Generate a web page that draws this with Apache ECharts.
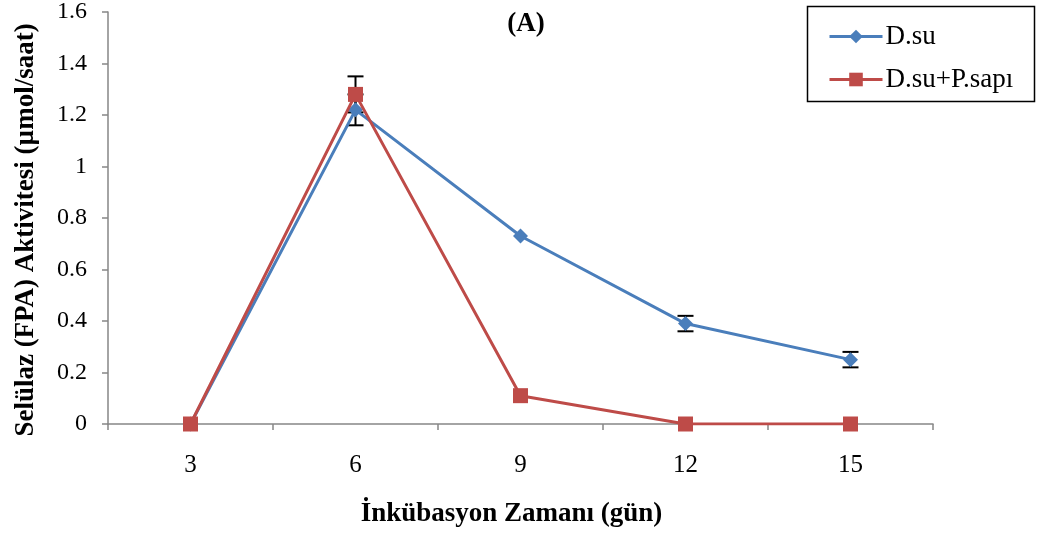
<!DOCTYPE html>
<html><head><meta charset="utf-8">
<script src="https://cdn.jsdelivr.net/npm/echarts@6/dist/echarts.min.js"></script>
<style>html,body{margin:0;padding:0;background:#fff}#c{width:1040px;height:535px}</style>
</head><body><div id="c"></div>
<script>
const categories = ['3', '6', '9', '12', '15'];
const dsu = [0, 1.22, 0.73, 0.39, 0.25];
const dsuErr = [0, 0.06, 0, 0.03, 0.03];
const dsuP = [0, 1.28, 0.11, 0, 0];
const dsuPErr = [0, 0.07, 0, 0, 0];
const seriesNames = ['D.su', 'D.su+P.sapı'];
const titleText = '(A)';
const xName = 'İnkübasyon Zamanı (gün)';
const yName = 'Selülaz (FPA) Aktivitesi (µmol/saat)';

const FONT = '"Liberation Serif", "Times New Roman", serif';
const chart = echarts.init(document.getElementById('c'));

function errSeries(vals, errs, z) {
  return {
    type: 'custom', z: z, silent: true,
    data: vals.map((v, i) => [i, v - errs[i], v + errs[i]]).filter((d, i) => errs[i] > 0),
    renderItem: function (params, api) {
      const x = api.value(0);
      const lo = api.coord([x, api.value(1)]);
      const hi = api.coord([x, api.value(2)]);
      const w = 8;
      const st = { stroke: '#000', lineWidth: 2 };
      return { type: 'group', children: [
        { type: 'line', shape: { x1: lo[0], y1: lo[1], x2: hi[0], y2: hi[1] }, style: st },
        { type: 'line', shape: { x1: lo[0] - w, y1: lo[1], x2: lo[0] + w, y2: lo[1] }, style: st },
        { type: 'line', shape: { x1: hi[0] - w, y1: hi[1], x2: hi[0] + w, y2: hi[1] }, style: st }
      ]};
    }
  };
}

chart.setOption({
  backgroundColor: '#fff',
  animation: false,
  title: { text: titleText, left: 521, top: 6, textAlign: 'center',
    textStyle: { fontFamily: FONT, fontSize: 27, fontWeight: 'bold', color: '#000' } },
  graphic: [{ type: 'rect', left: 805, top: 4, z: 10, silent: true,
    shape: { width: 227, height: 95 },
    style: { fill: 'none', stroke: '#000', lineWidth: 1.5 } }],
  legend: {
    orient: 'vertical', left: 805, top: 4,
    padding: [19, 10, 8, 23], itemGap: 16,
    itemWidth: 53, itemHeight: 17,
    lineStyle: { width: 3 },
    textStyle: { fontFamily: FONT, fontSize: 27, color: '#000', padding: [0, 0, 0, -2] },
    data: seriesNames
  },
  grid: { left: 108, right: 107, top: 12, bottom: 111, containLabel: false },
  xAxis: {
    type: 'category', data: categories, boundaryGap: true,
    name: xName, nameLocation: 'middle', nameGap: 77,
    nameTextStyle: { fontFamily: FONT, fontSize: 27, fontWeight: 'bold', color: '#000', padding: [0, 18, 0, 0] },
    axisLine: { lineStyle: { color: '#868686', width: 1.5 } },
    axisTick: { show: true, length: 6, lineStyle: { color: '#868686', width: 1.5 } },
    axisLabel: { fontFamily: FONT, fontSize: 25, color: '#000', margin: 29 },
    splitLine: { show: false }
  },
  yAxis: {
    type: 'value', min: 0, max: 1.6, interval: 0.2,
    name: yName, nameLocation: 'middle', nameGap: 68, nameRotate: 90,
    nameTextStyle: { fontFamily: FONT, fontSize: 27, fontWeight: 'bold', color: '#000', padding: [0, 24, 0, 0] },
    axisLine: { show: true, lineStyle: { color: '#868686', width: 1.5 } },
    axisTick: { show: true, length: 6, lineStyle: { color: '#868686', width: 1.5 } },
    axisLabel: { fontFamily: FONT, fontSize: 24, color: '#000', margin: 21,
      formatter: v => String(Math.round(v * 10) / 10) },
    splitLine: { show: false }
  },
  series: [
    { name: seriesNames[0], type: 'line', data: dsu, z: 3,
      symbol: 'diamond', symbolSize: 15,
      lineStyle: { color: '#4a7ebb', width: 3 },
      itemStyle: { color: '#4a7ebb' } },
    errSeries(dsu, dsuErr, 2),
    errSeries(dsuP, dsuPErr, 2),
    { name: seriesNames[1], type: 'line', data: dsuP, z: 4,
      symbol: 'rect', symbolSize: 15,
      lineStyle: { color: '#be4b48', width: 3 },
      itemStyle: { color: '#be4b48' } }
  ]
});
</script></body></html>
